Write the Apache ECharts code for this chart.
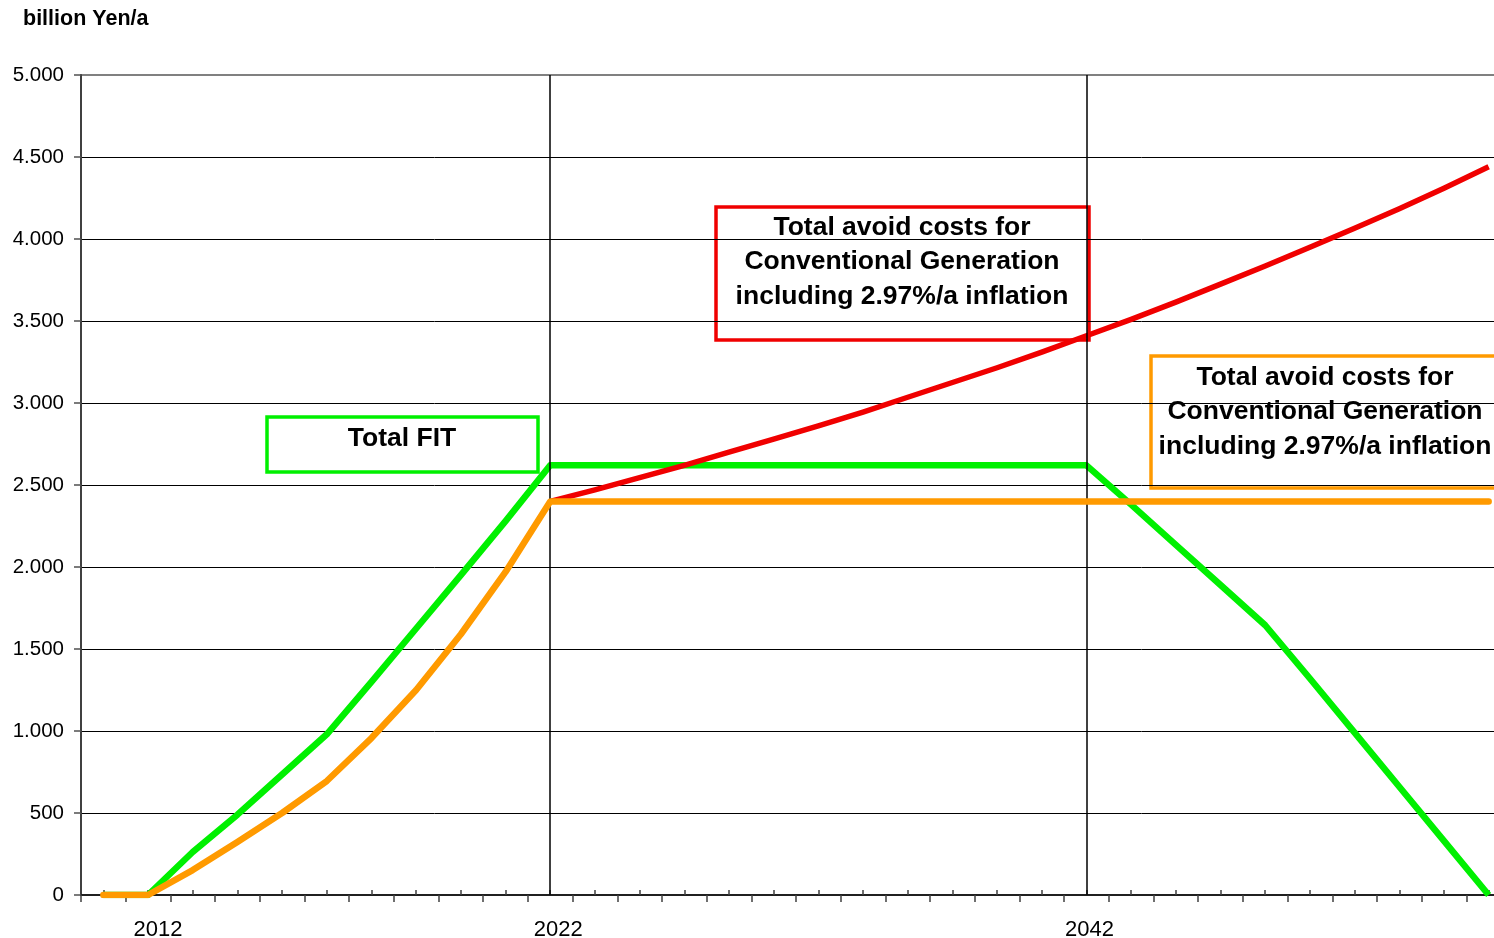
<!DOCTYPE html>
<html>
<head>
<meta charset="utf-8">
<script src="https://cdn.jsdelivr.net/npm/echarts@6/dist/echarts.min.js"></script>
<style>
html,body{margin:0;padding:0;background:#fff;}
#chart{width:1494px;height:938px;}
</style>
</head>
<body>
<div id="chart"></div>
<script>
// ---- data ----
const categories = ['p0','p1','p2','p3','p4','p5','p6','p7','p8','p9','p10','p11','p12','p13','p14','p15',
  'p16','p17','p18','p19','p20','p21','p22','p23','p24','p25','p26','p27','p28','p29','p30','p31'];
const tickLabels = {1: '2012', 10: '2022', 22: '2042'};
const yTicks = [0, 500, 1000, 1500, 2000, 2500, 3000, 3500, 4000, 4500, 5000];

const totalFIT = [0, 0, 262, 490, 735, 980, 1300, 1625, 1950, 2280, 2620,
  2620, 2620, 2620, 2620, 2620, 2620, 2620, 2620, 2620, 2620, 2620, 2620,
  2380, 2135, 1890, 1645, 1320, 990, 660, 330, 0];
const avoidInflation = [null, null, null, null, null, null, null, null, null, null,
  2400, 2470, 2545, 2620, 2700, 2780, 2860, 2945, 3035, 3125, 3215, 3310, 3410,
  3510, 3615, 3725, 3835, 3950, 4065, 4185, 4310, 4440];
const avoidFlat = [0, 0, 152, 323, 500, 695, 957, 1250, 1590, 1970, 2400,
  2400, 2400, 2400, 2400, 2400, 2400, 2400, 2400, 2400, 2400, 2400,
  2400, 2400, 2400, 2400, 2400, 2400, 2400, 2400, 2400, 2400];
const markerIdx = [10, 22];

const titleText = 'Costs versus Conventional Generation Costs';
const unitText = 'billion Yen/a';
const boxRedText = 'Total avoid costs for\nConventional Generation\nincluding 2.97%/a inflation';
const boxOrangeText = 'Total avoid costs for\nConventional Generation\nincluding 2.97%/a inflation';
const boxGreenText = 'Total FIT';

const FONT = '"Liberation Sans", Arial, sans-serif';
const chart = echarts.init(document.getElementById('chart'), null, {renderer: 'canvas'});

function fmtThousands(v) {
  return String(v).replace(/\B(?=(\d{3})+(?!\d))/g, '.');
}

const labelStyleKey = {1: 'a', 10: 'b', 22: 'c'};

function box(x, y, w, h, color, text, tx, ty) {
  return {
    type: 'group',
    z: 100,
    children: [
      {type: 'rect', shape: {x: x, y: y, width: w, height: h},
       style: {fill: '#fff', stroke: color, lineWidth: 3.5}},
      {type: 'text', style: {text: text, x: tx, y: ty, align: 'center', verticalAlign: 'top',
        font: 'bold 26.5px ' + FONT, lineHeight: 34.5, fill: '#000'}}
    ]
  };
}

const option = {
  animation: false,
  backgroundColor: '#fff',
  title: [
    {text: titleText, left: 841, top: -25, textAlign: 'center', padding: 0,
     textStyle: {fontFamily: FONT, fontSize: 26, fontWeight: 'bold', color: '#000'}},
    {text: unitText, left: 23, top: 8, padding: 0,
     textStyle: {fontFamily: FONT, fontSize: 21.5, fontWeight: 'bold', color: '#000'}}
  ],
  grid: {left: 81, top: 75, width: 1430, height: 820, show: true,
         outerBoundsMode: 'none', containLabel: false,
         borderColor: '#808080', borderWidth: 2, backgroundColor: 'transparent'},
  xAxis: [
    {
      type: 'category', data: categories, boundaryGap: true, position: 'bottom',
      axisLine: {lineStyle: {color: '#202020', width: 2}},
      axisTick: {show: true, inside: false, length: 7, interval: 0, lineStyle: {color: '#404040', width: 1.5}},
      axisLabel: {interval: 0, margin: 24, fontFamily: FONT, fontSize: 22, color: '#000',
        formatter: function (v, i) {
          return tickLabels[i] ? '{' + labelStyleKey[i] + '|' + tickLabels[i] + '}' : '';
        },
        rich: {
          a: {fontFamily: FONT, fontSize: 22, color: '#000', padding: [0, 0, 0, 20]},
          b: {fontFamily: FONT, fontSize: 22, color: '#000', padding: [0, 0, 0, 16]},
          c: {fontFamily: FONT, fontSize: 22, color: '#000', padding: [0, 0, 0, 6]}
        }},
      splitLine: {show: false}
    },
    {
      type: 'category', data: categories, boundaryGap: true, position: 'bottom', offset: 0,
      axisLine: {show: false},
      axisTick: {show: true, inside: true, alignWithLabel: true, length: 5, interval: 0,
        lineStyle: {color: '#404040', width: 1.5}},
      axisLabel: {show: false},
      splitLine: {show: false}
    }
  ],
  yAxis: {
    type: 'value', min: yTicks[0], max: yTicks[yTicks.length - 1], interval: 500,
    axisLine: {show: true, lineStyle: {color: '#404040', width: 2}},
    axisTick: {show: true, length: 7, lineStyle: {color: '#505050', width: 1.5}},
    axisLabel: {margin: 17, fontFamily: FONT, fontSize: 20.5, color: '#000',
      formatter: function (v) { return fmtThousands(v); }},
    splitLine: {show: true, showMaxLine: false, lineStyle: {color: '#000', width: 1}}
  },
  series: [
    {
      name: 'Total FIT', type: 'line', data: totalFIT, xAxisIndex: 0,
      symbol: 'none', lineStyle: {color: '#00f000', width: 6.5, join: 'round'},
      z: 3,
      markLine: {
        silent: true, symbol: ['none', 'none'], label: {show: false},
        lineStyle: {color: '#000', width: 1.5, type: 'solid'},
        data: markerIdx.map(function (i) { return {xAxis: i}; })
      }
    },
    {
      name: 'Avoid costs incl. inflation', type: 'line', data: avoidInflation, xAxisIndex: 0,
      symbol: 'none', lineStyle: {color: '#f00000', width: 5.5, join: 'round'}, z: 4
    },
    {
      name: 'Avoid costs', type: 'line', data: avoidFlat, xAxisIndex: 0,
      symbol: 'none', lineStyle: {color: '#ff9a00', width: 6.5, join: 'round', cap: 'round'}, z: 5
    }
  ],
  graphic: [
    box(716, 207, 373, 133, '#f00000', boxRedText, 902, 210),
    box(1151, 356, 420, 132, '#ff9a00', boxOrangeText, 1325, 360),
    box(267, 417, 271, 55, '#00f000', boxGreenText, 402, 421)
  ]
};
chart.setOption(option);
</script>
</body>
</html>
